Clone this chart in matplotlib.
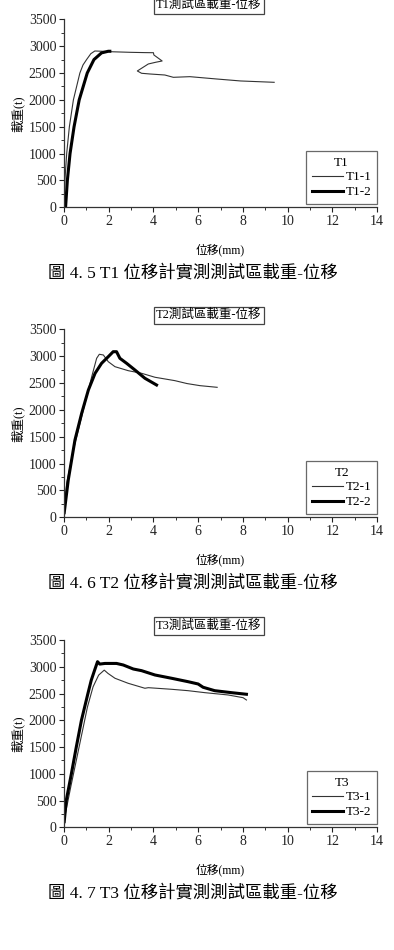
import matplotlib.pyplot as plt
from matplotlib.ticker import MultipleLocator

# T1 data (displacement mm, load t)
t1_1_x = [0, 0.02, 0.04, 0.08, 0.12, 0.24, 0.42, 0.71, 0.85, 1.01, 1.2, 1.38, 1.7, 2.2, 3.0,
          3.6, 4.0, 4.02, 4.39, 4.1, 3.77, 3.28, 3.47, 3.84, 4.51, 4.89, 5.63, 6.82, 7.9, 9.4]
t1_1_y = [0, 250, 500, 750, 1000, 1500, 2000, 2500, 2650, 2750, 2860, 2910, 2905, 2895, 2885,
          2880, 2878, 2836, 2724, 2700, 2668, 2538, 2495, 2482, 2463, 2420, 2432, 2389, 2352, 2327]
t1_2_x = [0.07, 0.15, 0.27, 0.45, 0.68, 1.04, 1.34, 1.68, 1.98, 2.05]
t1_2_y = [0, 500, 1000, 1500, 2000, 2500, 2750, 2875, 2905, 2905]

# T2 data
t2_1_x = [0.0, 0.12, 0.42, 0.94, 1.24, 1.46, 1.58, 1.76, 1.98, 2.28, 2.87, 3.47, 4.07, 4.96,
          5.5, 6.08, 6.85]
t2_1_y = [80, 633, 1253, 2123, 2618, 2960, 3035, 3022, 2897, 2804, 2730, 2681, 2607, 2544,
          2490, 2451, 2420]
t2_2_x = [0.01, 0.19, 0.49, 0.79, 1.09, 1.39, 1.68, 1.98, 2.2, 2.35, 2.5, 2.8, 3.17, 3.62, 4.14]
t2_2_y = [86, 694, 1439, 1936, 2370, 2681, 2867, 2990, 3083, 3083, 2960, 2867, 2743, 2588, 2463]

# T3 data
t3_1_x = [0.0, 0.06, 0.3, 0.55, 0.8, 1.05, 1.3, 1.55, 1.8, 1.97, 2.28, 2.87, 3.62, 3.77,
          4.81, 5.55, 6.3, 7.34, 8.01, 8.16]
t3_1_y = [80, 250, 750, 1250, 1750, 2250, 2625, 2844, 2937, 2875, 2785, 2691, 2598, 2609,
          2579, 2553, 2516, 2473, 2422, 2379]
t3_2_x = [0.01, 0.1, 0.33, 0.55, 0.78, 1.07, 1.22, 1.37, 1.5, 1.6, 1.83, 2.35, 2.65, 3.1,
          3.47, 4.07, 4.81, 5.55, 6.0, 6.22, 6.74, 7.49, 8.16]
t3_2_y = [105, 500, 1000, 1500, 2000, 2500, 2750, 2937, 3095, 3050, 3062, 3062, 3033, 2958,
          2927, 2846, 2785, 2721, 2678, 2617, 2553, 2516, 2486]

panels = [
    ("T1", t1_1_x, t1_1_y, t1_2_x, t1_2_y, "圖 4. 5 T1 位移計實測測試區載重-位移"),
    ("T2", t2_1_x, t2_1_y, t2_2_x, t2_2_y, "圖 4. 6 T2 位移計實測測試區載重-位移"),
    ("T3", t3_1_x, t3_1_y, t3_2_x, t3_2_y, "圖 4. 7 T3 位移計實測測試區載重-位移"),
]

FAM = ['Liberation Serif', 'Noto Sans CJK TC']
plt.rcParams['font.family'] = FAM

W, H = 394, 950
fig = plt.figure(figsize=(W / 100, H / 100), dpi=100)

# axes tops / bottoms in pixels
ax_px = [(19.3, 207.3), (329.3, 517.3), (640.0, 827.3)]
left, right = 64, 377

for (name, x1, y1, x2, y2, cap), (top, bot) in zip(panels, ax_px):
    ax = fig.add_axes([left / W, 1 - bot / H, (right - left) / W, (bot - top) / H])
    ax.plot(x1, y1, color='#333333', lw=0.8, label=f'{name}-1')
    ax.plot(x2, y2, color='black', lw=2.2, label=f'{name}-2')
    ax.set_xlim(0, 14)
    ax.set_ylim(0, 3500)
    ax.xaxis.set_major_locator(MultipleLocator(2))
    ax.xaxis.set_minor_locator(MultipleLocator(1))
    ax.yaxis.set_major_locator(MultipleLocator(500))
    ax.yaxis.set_minor_locator(MultipleLocator(250))
    ax.spines['top'].set_visible(False)
    ax.spines['right'].set_visible(False)
    for s in ('left', 'bottom'):
        ax.spines[s].set_color('#333333')
        ax.spines[s].set_linewidth(0.9)
    ax.tick_params(which='major', direction='out', length=3.5, width=0.8,
                   labelsize=10, colors='#222222', pad=2)
    ax.tick_params(which='minor', direction='out', length=2, width=0.7, colors='#333333')
    ax.set_xlabel('位移(mm)', fontsize=8.5, labelpad=11)
    ax.set_ylabel('載重(t)', fontsize=9, labelpad=3)

    leg = ax.legend(title=name, loc='lower right', bbox_to_anchor=(1.0, 0.02),
                    fontsize=9.5, title_fontsize=9.5, frameon=True, fancybox=False,
                    handlelength=2.4, handletextpad=0.2, borderpad=0.4,
                    labelspacing=0.2, borderaxespad=0.0)
    leg.get_frame().set_edgecolor('#444444')
    leg.get_frame().set_linewidth(0.9)

    fig.text(209 / W, 1 - (top - 14) / H, f'{name}測試區載重-位移', fontsize=9,
             ha='center', va='center',
             bbox=dict(boxstyle='square,pad=0.2', fc='white', ec='#444444', lw=0.9))
    fig.text(193 / W, 1 - (bot + 66) / H, cap, fontsize=12.5, ha='center', va='center')

fig.savefig('out.png', dpi=100)
